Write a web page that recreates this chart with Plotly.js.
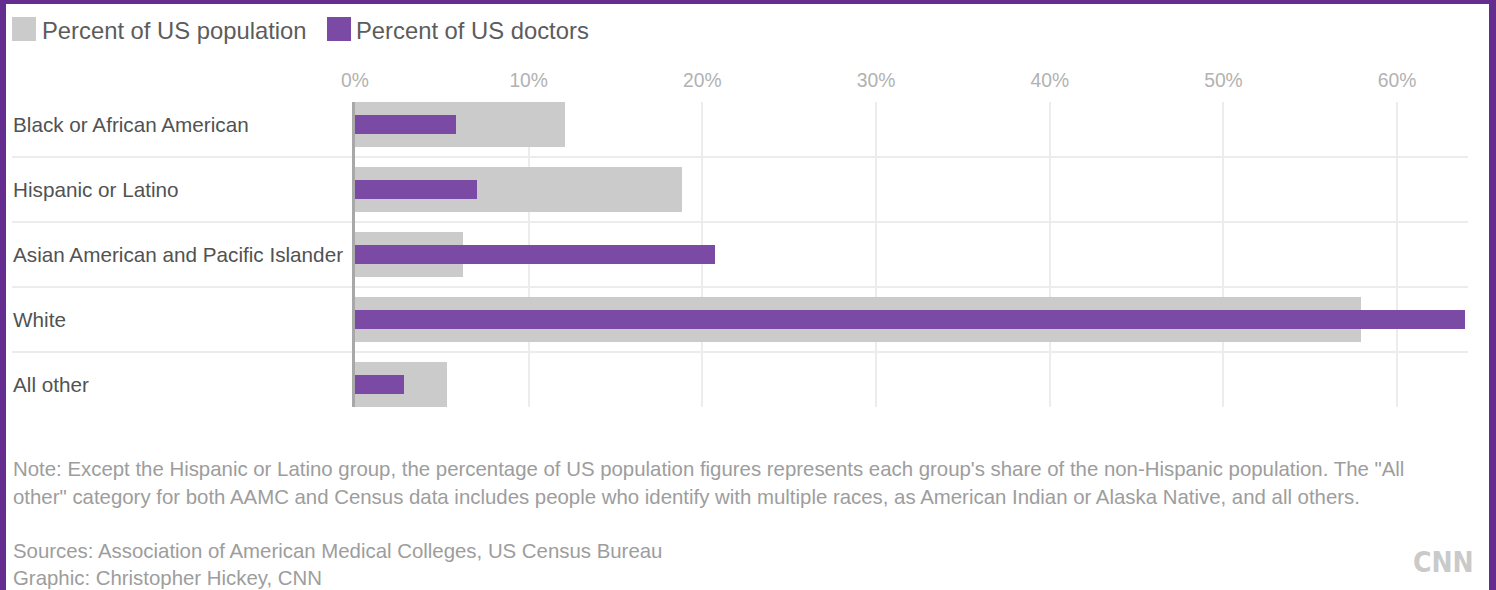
<!DOCTYPE html>
<html>
<head>
<meta charset="utf-8">
<script src="https://cdn.plot.ly/plotly-3.0.1.min.js"></script>
<style>
  html, body { margin: 0; padding: 0; width: 1496px; height: 590px; overflow: hidden; background: #652d90; }
  #chart { position: absolute; left: 6px; top: 4px; width: 1483px; height: 586px; background: #ffffff; }
</style>
</head>
<body>
<div id="chart"></div>
<script>
// ---------- data ----------
const categories = [
  'Black or African American',
  'Hispanic or Latino',
  'Asian American and Pacific Islander',
  'White',
  'All other'
];
const populationPct = [12.1, 18.8, 6.2, 57.9, 5.3];
const doctorsPct    = [5.8, 7.0, 20.7, 63.9, 2.8];
const tickValues = [0, 10, 20, 30, 40, 50, 60];
const tickLabels = ['0%', '10%', '20%', '30%', '40%', '50%', '60%'];
const seriesNames = ['Percent of US population', 'Percent of US doctors'];
const noteLines = [
  'Note: Except the Hispanic or Latino group, the percentage of US population figures represents each group\'s share of the non-Hispanic population. The "All',
  'other" category for both AAMC and Census data includes people who identify with multiple races, as American Indian or Alaska Native, and all others.'
];
const sourceLines = [
  'Sources: Association of American Medical Colleges, US Census Bureau',
  'Graphic: Christopher Hickey, CNN'
];

// ---------- style ----------
const GRAY = '#cbcbcb';
const PURPLE = '#7b4aa5';
const FONT = 'Liberation Sans, Arial, Helvetica, sans-serif';
const DIV_LEFT = 6, DIV_TOP = 4;
const M = { l: 349, t: 98, w: 1113, h: 305 };
const DIV_W = 1483, DIV_H = 586;
const POP_W = 0.69, DOC_W = 0.29;
const Y_PAD = POP_W / 2;
const Y_RANGE = [categories.length - 1 + Y_PAD, -Y_PAD];

// page pixel -> paper coords
const px = x => (x - DIV_LEFT - M.l) / M.w;
const py = y => 1 - (y - DIV_TOP - M.t) / M.h;
// category boundary -> paper y
const catToPaper = v => (Y_RANGE[0] - v) / (Y_RANGE[0] - Y_RANGE[1]);

const traces = [
  {
    type: 'bar', orientation: 'h', name: seriesNames[0],
    y: categories, x: populationPct, width: POP_W,
    marker: { color: GRAY }, hoverinfo: 'x+name', showlegend: false
  },
  {
    type: 'bar', orientation: 'h', name: seriesNames[1],
    y: categories, x: doctorsPct, width: DOC_W,
    marker: { color: PURPLE }, hoverinfo: 'x+name', showlegend: false
  }
];

const shapes = [];
const annotations = [];

// row separators
for (let i = 0; i < categories.length - 1; i++) {
  const yy = catToPaper(i + 0.5);
  shapes.push({ type: 'line', xref: 'paper', yref: 'paper', x0: px(12), x1: 1, y0: yy, y1: yy,
    line: { color: '#e6e6e6', width: 1.5 }, layer: 'below' });
}

// category labels (left aligned)
categories.forEach(c => {
  annotations.push({ xref: 'paper', yref: 'y', x: px(11), y: c, text: c, showarrow: false,
    xanchor: 'left', yanchor: 'middle', font: { family: FONT, size: 20.7, color: '#525252' } });
});

// legend
const legendItems = [
  { sq: 12, tx: 40, color: GRAY, name: seriesNames[0] },
  { sq: 327, tx: 354, color: PURPLE, name: seriesNames[1] }
];
legendItems.forEach(it => {
  shapes.push({ type: 'rect', xref: 'paper', yref: 'paper', x0: px(it.sq), x1: px(it.sq + 24),
    y0: py(17), y1: py(41), fillcolor: it.color, line: { width: 0 } });
  annotations.push({ xref: 'paper', yref: 'paper', x: px(it.tx), y: py(30), text: it.name,
    showarrow: false, xanchor: 'left', yanchor: 'middle',
    font: { family: FONT, size: 23.8, color: '#5c5c5c' } });
});

// notes
const SMALL = 20.4;
const noteY = [469, 497];
noteLines.forEach((t, i) => {
  annotations.push({ xref: 'paper', yref: 'paper', x: px(11), y: py(noteY[i]), text: t,
    showarrow: false, xanchor: 'left', yanchor: 'middle',
    font: { family: FONT, size: SMALL, color: '#9d9d9d' } });
});
const srcY = [551, 578];
sourceLines.forEach((t, i) => {
  annotations.push({ xref: 'paper', yref: 'paper', x: px(11), y: py(srcY[i]), text: t,
    showarrow: false, xanchor: 'left', yanchor: 'middle',
    font: { family: FONT, size: SMALL, color: '#9d9d9d' } });
});
// CNN mark
annotations.push({ xref: 'paper', yref: 'paper', x: px(1476), y: py(562), text: '<b>CNN</b>',
  showarrow: false, xanchor: 'right', yanchor: 'middle',
  font: { family: 'DejaVu Sans Condensed, ' + FONT, size: 28, color: '#cacaca' } });

const layout = {
  width: DIV_W, height: DIV_H,
  margin: { l: M.l, t: M.t, r: DIV_W - M.l - M.w, b: DIV_H - M.t - M.h, pad: 0 },
  paper_bgcolor: '#ffffff', plot_bgcolor: '#ffffff',
  barmode: 'overlay', bargap: 0,
  showlegend: false,
  font: { family: FONT },
  xaxis: {
    side: 'top', range: [0, 64.08], tickvals: tickValues, ticktext: tickLabels,
    showgrid: true, gridcolor: '#ececec', gridwidth: 1.5, zeroline: false,
    ticks: '', ticklabelstandoff: 10, showline: false,
    tickfont: { family: FONT, size: 19.3, color: '#b2b2b2' }, fixedrange: true
  },
  yaxis: {
    type: 'category', categoryorder: 'array', categoryarray: categories,
    range: Y_RANGE, showticklabels: false, ticks: '', showgrid: false, zeroline: false,
    showline: true, linecolor: '#a8a8a8', linewidth: 2.5, fixedrange: true
  },
  shapes: shapes,
  annotations: annotations
};

Plotly.newPlot('chart', traces, layout, { displayModeBar: false });
</script>
</body>
</html>
